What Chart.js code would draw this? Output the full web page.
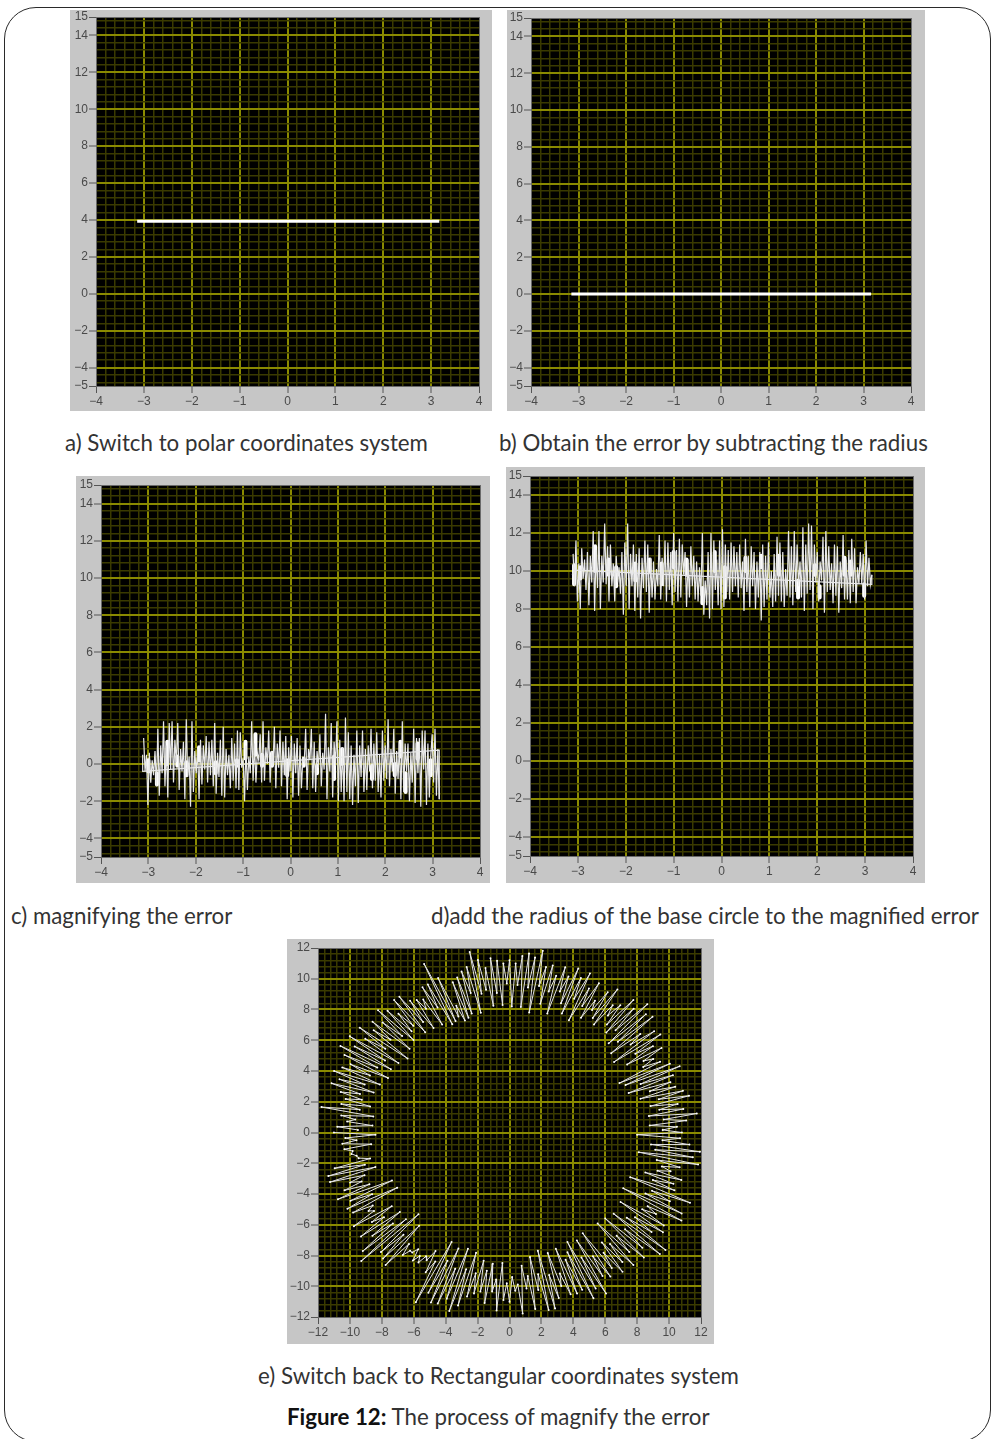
<!DOCTYPE html>
<html>
<head>
<meta charset="utf-8">
<title>Figure 12</title>
<script src="https://cdn.jsdelivr.net/npm/chart.js@4"></script>
<style>
html, body { margin: 0; padding: 0; background: #fff; }
body { position: relative; width: 992px; height: 1439px; overflow: hidden; font-family: Lato, sans-serif; color: #333; }
#card { position: absolute; left: 4px; top: 7px; width: 985px; height: 1433px; border: 1.5px solid #2a2a2a; border-radius: 32px; }
canvas { position: absolute; display: block; }
.cap { position: absolute; white-space: nowrap; font-size: 22.3px; line-height: 24px; }
.cap b { color: #111; }
</style>
</head>
<body>
<div id="card"></div>
<canvas id="panelA" width="422" height="401" style="left:70px;top:10px"></canvas>
<canvas id="panelB" width="418" height="401" style="left:507px;top:10px"></canvas>
<canvas id="panelC" width="414" height="407" style="left:76px;top:476px"></canvas>
<canvas id="panelD" width="419" height="416" style="left:506px;top:467px"></canvas>
<canvas id="panelE" width="427" height="405" style="left:287px;top:939px"></canvas>
<div class="cap" style="left:65px;top:431px">a) Switch to polar coordinates system</div>
<div class="cap" style="left:499px;top:431px">b) Obtain the error by subtracting the radius</div>
<div class="cap" style="left:11px;top:904px">c) magnifying the error</div>
<div class="cap" style="left:431px;top:904px">d)add the radius of the base circle to the magnified error</div>
<div class="cap" style="left:258px;top:1364px">e) Switch back to Rectangular coordinates system</div>
<div class="cap" style="left:287px;top:1405px"><b>Figure 12:</b> The process of magnify the error</div>
<script>
const xTicksAngle = [-4, -3, -2, -1, 0, 1, 2, 3, 4];
const yTicksRadius = [15, 14, 12, 10, 8, 6, 4, 2, 0, -2, -4, -5];
const ticksCircle = [-12, -10, -8, -6, -4, -2, 0, 2, 4, 6, 8, 10, 12];

const lineAx = [-3.14, 3.17];
const lineAy = [3.93, 3.93];
const lineBx = [-3.15, 3.16];
const lineBy = [0, 0];

const angles = [
  -3.10,-3.07,-3.04,-3.01,-2.98,-2.95,-2.92,-2.89,-2.86,-2.83,
  -2.80,-2.77,-2.74,-2.71,-2.68,-2.65,-2.62,-2.59,-2.56,-2.53,
  -2.50,-2.47,-2.44,-2.41,-2.38,-2.35,-2.32,-2.29,-2.26,-2.23,
  -2.20,-2.17,-2.14,-2.11,-2.08,-2.05,-2.02,-1.99,-1.96,-1.93,
  -1.90,-1.87,-1.84,-1.81,-1.78,-1.75,-1.72,-1.69,-1.66,-1.63,
  -1.60,-1.57,-1.54,-1.51,-1.48,-1.45,-1.42,-1.39,-1.36,-1.33,
  -1.30,-1.27,-1.24,-1.21,-1.18,-1.15,-1.12,-1.09,-1.06,-1.03,
  -1.00,-0.97,-0.94,-0.91,-0.88,-0.85,-0.82,-0.79,-0.76,-0.73,
  -0.70,-0.67,-0.64,-0.61,-0.58,-0.55,-0.52,-0.49,-0.46,-0.43,
  -0.40,-0.37,-0.34,-0.31,-0.28,-0.25,-0.22,-0.19,-0.16,-0.13,
  -0.10,-0.07,-0.04,-0.01,0.02,0.05,0.08,0.11,0.14,0.17,
  0.20,0.23,0.26,0.29,0.32,0.35,0.38,0.41,0.44,0.47,
  0.50,0.53,0.56,0.59,0.62,0.65,0.68,0.71,0.74,0.77,
  0.80,0.83,0.86,0.89,0.92,0.95,0.98,1.01,1.04,1.07,
  1.10,1.13,1.16,1.19,1.22,1.25,1.28,1.31,1.34,1.37,
  1.40,1.43,1.46,1.49,1.52,1.55,1.58,1.61,1.64,1.67,
  1.70,1.73,1.76,1.79,1.82,1.85,1.88,1.91,1.94,1.97,
  2.00,2.03,2.06,2.09,2.12,2.15,2.18,2.21,2.24,2.27,
  2.30,2.33,2.36,2.39,2.42,2.45,2.48,2.51,2.54,2.57,
  2.60,2.63,2.66,2.69,2.72,2.75,2.78,2.81,2.84,2.87,
  2.90,2.93,2.96,2.99,3.02,3.05,3.08,3.11,3.14
];

const magnified = [
  1.4,-0.4,0.5,-2.2,0.6,-1.0,0.2,-0.6,0.7,-1.2,
  1.9,-1.7,1.0,-0.5,2.3,-1.2,1.0,-1.8,2.2,-0.3,
  2.3,-1.0,1.3,0.1,2.2,-1.4,0.8,-0.4,1.2,-1.9,
  2.4,-0.7,0.4,-2.3,2.3,-1.5,0.7,-0.5,0.8,-1.9,
  1.3,-1.1,1.0,-0.3,1.5,-1.0,1.2,-0.6,1.3,-1.2,
  2.2,-1.6,0.6,-0.7,1.3,-1.7,2.0,-1.8,0.8,-0.6,
  0.5,-1.3,1.4,-0.9,1.1,-1.3,1.8,-1.4,1.7,-0.2,
  0.3,-2.0,1.0,-1.4,0.4,-0.5,2.3,-0.9,1.1,-1.0,
  0.6,0.2,1.6,-1.0,2.3,-0.9,0.9,0.0,1.8,-1.0,
  0.7,-0.1,2.0,-1.3,1.1,-0.2,1.8,-1.2,1.2,-0.6,
  1.5,-1.9,0.9,-0.4,1.5,-1.8,1.1,-0.5,1.4,-1.7,
  1.0,-1.3,0.3,0.1,1.9,-1.4,0.8,0.2,1.9,-1.3,
  1.2,-1.5,0.7,-0.2,1.6,-1.2,0.6,-0.3,2.7,-1.9,
  0.9,-0.4,2.2,-1.8,1.2,-0.1,2.3,-2.0,1.3,-1.5,
  0.9,-2.0,2.5,-1.5,1.7,-1.9,1.0,-2.2,0.5,-1.2,
  1.8,-2.1,1.0,-0.7,1.8,-1.5,0.8,-1.4,1.0,-0.4,
  1.9,-1.3,1.1,-0.9,1.7,-1.5,0.5,-1.8,1.8,-0.9,
  1.0,-0.8,2.4,-1.2,0.8,-0.4,1.9,-1.6,0.7,-0.8,
  1.1,-1.9,2.3,-1.5,1.1,-0.4,1.1,-2.0,0.6,-1.0,
  1.9,-2.1,1.4,-0.5,1.4,-2.3,1.8,-0.3,1.8,-2.2,
  1.1,-1.8,0.4,1.6,-1.0,1.9,-1.7,0.8,-1.9
];
const closeCx = [3.14, 3.14, -3.12, -3.12];
const closeCy = [-1.9, 0.75, -0.4, 0.5];
// the solid white clumps in c)
const clumpCx = [-3.0,-2.82,-2.6,-2.39,-2.2,-1.93,-1.58,-1.13,-0.95,-0.74,-0.6,-0.39,-0.07,0.28,0.56,0.92,1.09,1.72,2.2,2.32,2.43,2.68,2.96];
const clumpClo = [-0.4,-1.1,0,-0.1,-0.6,0.2,-0.5,-0.1,0.3,0.5,-0.1,-0.1,-0.6,-0.1,-0.5,-0.8,0,-0.8,-0.6,0.4,-1.5,0.3,-0.6];
const clumpChi = [0.2,-0.5,1.2,0.4,0.1,0.9,0.1,0.2,1.2,1.6,0.5,0.6,0.2,0.3,-0.1,0.4,0.8,-0.1,0,1.2,-0.5,1.1,0.2];

const shifted = [
  10.9,9.2,11.6,8.4,10.4,8.0,11.2,9.6,10.6,9.0,
  11.0,8.2,10.8,9.4,12.1,7.9,11.1,9.1,12.1,8.0,
  10.8,9.4,12.5,9.3,11.3,8.4,11.4,9.2,10.4,8.4,
  10.8,9.4,10.2,8.8,11.0,7.7,11.5,9.2,12.5,8.0,
  10.9,9.2,11.4,7.9,10.9,8.6,11.2,7.5,10.7,9.1,
  11.6,8.9,11.4,7.8,10.7,8.6,10.5,8.5,10.1,9.2,
  11.9,8.5,10.7,9.2,11.6,8.4,11.5,9.0,11.0,8.2,
  12.0,8.9,11.1,8.4,11.7,8.6,11.4,9.8,11.0,8.1,
  10.6,8.6,11.3,9.2,10.8,8.5,10.5,8.4,10.2,8.7,
  12.0,7.7,9.5,8.2,11.0,7.5,12.0,8.0,11.6,9.0,
  10.6,8.2,11.6,8.0,12.2,8.1,11.4,8.9,11.1,8.5,
  11.5,8.9,11.3,9.2,11.0,8.6,11.4,9.1,10.5,7.9,
  11.7,8.9,10.8,8.1,11.3,9.2,11.0,8.0,10.5,8.6,
  11.0,7.4,11.4,8.1,10.8,8.5,11.5,8.6,10.0,8.1,
  10.9,8.4,11.8,8.7,11.5,8.4,11.0,8.1,10.1,8.7,
  12.1,8.6,11.3,8.2,12.1,8.9,11.4,9.2,10.5,8.6,
  12.3,7.9,11.4,8.8,12.5,9.0,12.4,8.0,11.4,9.4,
  11.0,8.4,10.5,9.5,11.8,7.8,12.1,8.9,11.3,9.0,
  10.4,8.3,11.4,8.7,11.3,7.8,10.5,9.1,11.9,8.5,
  10.6,8.5,11.1,8.3,11.7,8.9,11.2,8.3,10.2,9.3,
  11.0,9.3,10.9,8.5,11.6,9.2,10.7,9.3,9.8
];
const closeDx = [3.14, 3.14, -3.05, -3.12];
const closeDy = [9.8, 9.3, 10.05, 9.8];
// the solid white clumps in d)
const clumpDx = [-3.08,-2.95,-2.64,-2.36,-2.2,-1.8,-1.5,-1.25,-1.0,-0.73,-0.4,0.07,-0.14,0.5,0.83,1.2,1.6,2.05,1.95,2.57,2.7,2.98];
const clumpDlo = [9.3,9.6,10.0,9.8,9.2,9.5,10.0,9.3,10.2,9.8,8.3,8.6,10.0,10.0,10.2,9.8,8.6,8.6,9.8,9.8,9.8,8.7];
const clumpDhi = [10.3,10.2,11.3,10.6,10.2,10.4,10.6,10.4,11.0,10.6,9.1,10.2,11.0,10.7,10.8,10.8,9.5,9.2,10.3,10.7,10.5,9.3];

const circleDegrees = [
  -180,-179,-178,-177,-176,-175,-174,-173,-172,-171,-170,-169,-168,-167,-166,-165,-164,-163,-162,-161,
  -160,-159,-158,-157,-156,-155,-154,-153,-152,-151,-150,-149,-148,-147,-146,-145,-144,-143,-142,-141,
  -140,-139,-138,-137,-136,-135,-134,-133,-132,-131,-130,-129,-128,-127,-126,-125,-124,-123,-122,-121,
  -120,-119,-118,-117,-116,-115,-114,-113,-112,-111,-110,-109,-108,-107,-106,-105,-104,-103,-102,-101,
  -100,-99,-98,-97,-96,-95,-94,-93,-92,-91,-90,-89,-88,-87,-86,-85,-84,-83,-82,-81,
  -80,-79,-78,-77,-76,-75,-74,-73,-72,-71,-70,-69,-68,-67,-66,-65,-64,-63,-62,-61,
  -60,-59,-58,-57,-56,-55,-54,-53,-52,-51,-50,-49,-48,-47,-46,-45,-44,-43,-42,-41,
  -40,-39,-38,-37,-36,-35,-34,-33,-32,-31,-30,-29,-28,-27,-26,-25,-24,-23,-22,-21,
  -20,-19,-18,-17,-16,-15,-14,-13,-12,-11,-10,-9,-8,-7,-6,-5,-4,-3,-2,-1,
  0,1,2,3,4,5,6,7,8,9,10,11,12,13,14,15,16,17,18,19,
  20,21,22,23,24,25,26,27,28,29,30,31,32,33,34,35,36,37,38,39,
  40,41,42,43,44,45,46,47,48,49,50,51,52,53,54,55,56,57,58,59,
  60,61,62,63,64,65,66,67,68,69,70,71,72,73,74,75,76,77,78,79,
  80,81,82,83,84,85,86,87,88,89,90,91,92,93,94,95,96,97,98,99,
  100,101,102,103,104,105,106,107,108,109,110,111,112,113,114,115,116,117,118,119,
  120,121,122,123,124,125,126,127,128,129,130,131,132,133,134,135,136,137,138,139,
  140,141,142,143,144,145,146,147,148,149,150,151,152,153,154,155,156,157,158,159,
  160,161,162,163,164,165,166,167,168,169,170,171,172,173,174,175,176,177,178,179
];
const circleRadius = [
  11.0,8.4,10.3,9.6,10.5,8.7,10.4,9.9,10.0,9.7,9.6,8.9,11.2,9.3,11.7,8.7,11.7,9.5,10.5,9.8,
  11.0,9.4,11.6,8.0,10.9,9.5,11.3,7.9,11.1,9.8,10.2,9.9,11.5,8.8,10.4,9.6,11.5,8.6,10.9,9.4,
  12.0,8.6,12.5,7.8,11.2,9.4,11.4,8.3,11.6,9.6,10.4,9.9,9.9,9.5,10.3,9.8,10.2,9.6,9.8,9.0,
  10.5,9.6,12.5,8.0,11.6,9.2,12.1,8.2,12.0,9.5,11.5,8.0,12.2,9.3,11.7,8.1,11.0,9.4,10.7,8.5,
  10.5,9.1,11.2,8.6,10.4,9.6,11.6,8.5,10.9,9.8,11.0,9.4,10.3,9.9,11.8,8.7,10.2,9.4,11.6,8.2,
  10.4,9.4,11.8,7.9,11.8,9.6,11.2,8.2,10.5,9.7,11.2,8.1,11.3,9.0,11.2,8.6,12.0,8.0,11.5,9.3,
  12.1,8.2,11.0,9.6,11.3,8.0,10.9,9.8,11.5,9.2,11.0,9.6,11.6,8.1,10.8,9.5,11.7,8.2,11.2,9.6,
  12.3,8.4,12.4,9.2,11.0,9.6,11.6,8.3,11.4,9.7,10.6,9.9,12.2,8.0,12.0,9.4,11.0,9.7,12.2,8.1,
  11.0,9.5,10.8,8.9,11.2,9.6,10.4,9.8,10.9,9.4,12.0,8.2,11.6,9.2,12.0,8.9,11.3,9.6,10.7,8.0,
  10.8,9.6,10.5,8.8,11.1,9.7,11.8,8.8,11.0,9.5,10.7,9.0,11.5,9.6,11.2,8.5,10.8,9.2,10.6,7.9,
  10.9,8.8,11.5,7.9,11.0,7.6,10.5,9.4,10.2,9.6,11.0,8.6,10.6,9.4,11.4,8.0,11.2,9.5,10.4,8.2,
  11.7,9.0,11.5,8.5,12.0,9.4,11.2,8.9,11.6,9.3,10.8,9.8,10.5,8.8,11.5,9.1,11.0,9.5,10.1,8.7,
  11.2,9.4,10.6,8.2,11.5,9.6,11.0,8.4,11.5,9.0,10.8,9.7,11.3,8.1,10.6,9.5,11.2,8.6,11.0,9.7,
  12.0,7.9,11.5,9.5,11.7,8.2,11.5,9.6,11.0,8.2,11.2,9.7,11.0,8.3,11.2,9.1,11.4,8.3,10.8,9.4,
  11.4,9.2,12.0,8.0,11.1,9.4,10.9,8.1,10.6,7.9,10.4,7.8,8.9,8.2,11.0,8.0,12.2,7.9,10.9,9.3,
  10.9,8.2,10.2,9.6,10.4,8.3,10.6,9.0,11.2,8.4,11.25,9.2,10.4,9.0,11.0,8.5,11.45,9.2,10.7,8.3,
  11.2,9.6,10.8,8.0,11.6,9.5,10.9,8.3,11.8,9.1,11.2,8.5,12.0,9.3,11.5,8.4,10.9,9.5,11.3,8.7,
  11.7,9.6,11.2,8.9,11.6,9.7,10.9,9.5,10.5,8.9,10.7,9.5,11.9,8.6,10.6,9.7,10.2,8.6,10.8,9.5
];

const GRAY = '#c6c6c6';
const MAJOR = '#8a8a00';
const MINOR = '#3a3a00';
const EDGE = '#6a6a6a';

function pairs(xs, ys) {
  return xs.map((x, i) => ({ x: x, y: ys[i] }));
}

// vertical strokes, broken by nulls so they are not joined
function strokes(xs, lo, hi) {
  const pts = [];
  xs.forEach((x, i) => {
    pts.push({ x: x, y: lo[i] }, { x: x, y: hi[i] }, { x: x, y: null });
  });
  return pts;
}

// labelled ticks plus the dim grid lines between them
function gridTicks(labelled, start, step, end) {
  const list = labelled.map(v => ({ value: v, major: true }));
  for (let i = 0; start + i * step <= end + 1e-6; i++) {
    const v = Math.round((start + i * step) * 100) / 100;
    if (labelled.indexOf(v) < 0) list.push({ value: v, major: false });
  }
  return list.sort((a, b) => a.value - b.value);
}

const plotBack = {
  id: 'plotBack',
  beforeDraw(chart) {
    const c = chart.ctx, a = chart.chartArea;
    c.save();
    c.fillStyle = GRAY;
    c.fillRect(0, 0, chart.width, chart.height);
    c.fillStyle = '#000';
    c.fillRect(a.left, a.top, a.right - a.left, a.bottom - a.top);
    c.restore();
  }
};

function axis(pos, min, max, ticks, size) {
  const atEdge = t => t.value === min || t.value === max;
  return {
    type: 'linear',
    position: pos,
    min: min,
    max: max,
    afterBuildTicks(scale) { scale.ticks = ticks; },
    afterFit(scale) {
      if (pos === 'left') scale.width = size; else scale.height = size;
      scale.paddingLeft = scale.paddingRight = scale.paddingTop = scale.paddingBottom = 0;
    },
    border: { display: true, color: EDGE, width: 1 },
    grid: {
      drawTicks: true,
      tickLength: 7,
      color: c => !c.tick ? MINOR : atEdge(c.tick) ? EDGE : c.tick.major ? MAJOR : MINOR,
      lineWidth: c => !c.tick || atEdge(c.tick) ? 1 : c.tick.major ? 2 : 1.5,
      tickColor: c => c.tick && c.tick.major ? '#555' : 'rgba(0,0,0,0)',
      tickWidth: 1
    },
    ticks: {
      autoSkip: false,
      maxRotation: 0,
      padding: 1,
      color: '#4a4a4a',
      font: { family: 'Liberation Sans', size: 12 },
      callback(v, i, all) {
        return all[i].major ? String(v).replace('-', '\u2212') : '';
      }
    }
  };
}

function panel(id, box, datasets) {
  return new Chart(id, {
    type: 'scatter',
    data: { datasets: datasets },
    options: {
      responsive: false,
      animation: false,
      layout: { padding: box.padding },
      plugins: { legend: { display: false }, title: { display: false }, tooltip: { enabled: false } },
      scales: {
        x: axis('bottom', box.xMin, box.xMax, box.xGrid, box.bottom),
        y: axis('left', box.yMin, box.yMax, box.yGrid, box.left)
      }
    },
    plugins: [plotBack]
  });
}

function thick(xs, ys) {
  return { data: pairs(xs, ys), showLine: true, borderColor: '#fff', borderWidth: 3, pointRadius: 0 };
}
function noisy(xs, ys) {
  return { data: pairs(xs, ys), showLine: true, borderColor: '#e8e8e8', borderWidth: 1.2, pointRadius: 0 };
}
function clumps(xs, lo, hi) {
  return { data: strokes(xs, lo, hi), showLine: true, spanGaps: false, borderColor: '#fff', borderWidth: 4, borderCapStyle: 'round', pointRadius: 0 };
}

const angleGrid = gridTicks(xTicksAngle, -4, 0.2, 4);
const radiusGrid = gridTicks(yTicksRadius, -4.8, 0.4, 14.8);
const circleGrid = gridTicks(ticksCircle, -12, 0.4, 12);

const polarRange = { xMin: -4, xMax: 4, yMin: -5, yMax: 15, xGrid: angleGrid, yGrid: radiusGrid };

panel('panelA', Object.assign({ left: 26, bottom: 25, padding: { top: 7, right: 13, left: 0, bottom: 0 } }, polarRange),
  [thick(lineAx, lineAy)]);
panel('panelB', Object.assign({ left: 24, bottom: 25, padding: { top: 8, right: 14, left: 0, bottom: 0 } }, polarRange),
  [thick(lineBx, lineBy)]);
panel('panelC', Object.assign({ left: 25, bottom: 26, padding: { top: 9, right: 10, left: 0, bottom: 0 } }, polarRange),
  [noisy(angles, magnified), noisy(closeCx, closeCy), clumps(clumpCx, clumpClo, clumpChi)]);
panel('panelD', Object.assign({ left: 24, bottom: 27, padding: { top: 9, right: 12, left: 0, bottom: 0 } }, polarRange),
  [noisy(angles, shifted), noisy(closeDx, closeDy), clumps(clumpDx, clumpDlo, clumpDhi)]);

// e) is the same kind of trace read back as radius against angle
const circleX = circleRadius.map((r, i) => r * Math.cos(circleDegrees[i] * Math.PI / 180));
const circleY = circleRadius.map((r, i) => r * Math.sin(circleDegrees[i] * Math.PI / 180));

panel('panelE', { left: 31, bottom: 27, padding: { top: 9, right: 13, left: 0, bottom: 0 },
    xMin: -12, xMax: 12, yMin: -12, yMax: 12, xGrid: circleGrid, yGrid: circleGrid },
  [{ data: pairs(circleX, circleY), showLine: true, borderColor: '#e4e4e4', borderWidth: 1,
     pointRadius: 1, pointBackgroundColor: '#fff', pointBorderWidth: 0 }]);
</script>
</body>
</html>
